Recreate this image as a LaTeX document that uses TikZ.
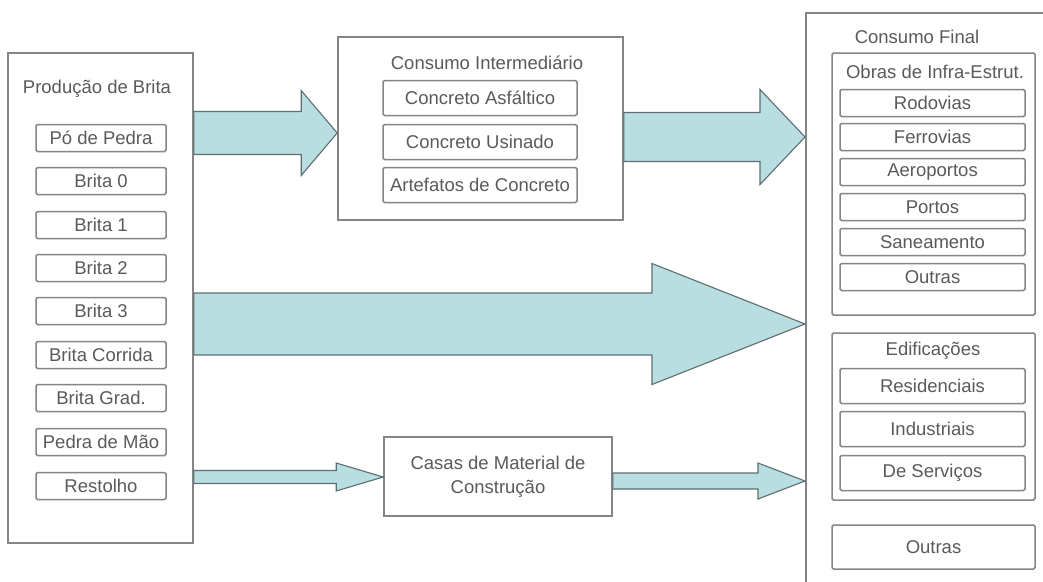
\documentclass[tikz,border=0pt]{standalone}
\usepackage{fontspec}
\setmainfont{Liberation Sans}
\usetikzlibrary{calc}
\definecolor{boxline}{HTML}{858585}
\definecolor{txt}{HTML}{5A5A5A}
\definecolor{arrfill}{HTML}{B8DEE2}
\definecolor{arrline}{HTML}{5C6E70}
\tikzset{
  outerbox/.style={draw=boxline, line width=1.6pt, fill=white, minimum width=#1, inner sep=0pt},
  itembox/.style={draw=boxline, line width=1.5pt, rounded corners=1.5pt, fill=white, inner sep=0pt, text=txt, font=\fontsize{18.5}{22}\selectfont},
  title/.style={text=txt, inner sep=0pt, font=\fontsize{18.5}{22}\selectfont},
  blockarrow/.style={fill=arrfill, draw=arrline, line width=1.1pt, line join=miter}
}
% #1 from, #2 to, #3 shaft half width, #4 head half width, #5 head length
\newcommand\myarrow[5]{%
  \draw[blockarrow] (#1) ++(0,-#3) -- ($(#2)+(-#5,-#3)$) -- ($(#2)+(-#5,-#4)$) -- (#2)
    -- ($(#2)+(-#5,#4)$) -- ($(#2)+(-#5,#3)$) -- ($(#1)+(0,#3)$) -- cycle;}
\begin{document}
\begin{tikzpicture}[x=1pt,y=-1pt]
\useasboundingbox (0,0) rectangle (1043,581);
\clip (0,0) rectangle (1043,581);
\fill[white] (0,0) rectangle (1043,581);

% Producao de Brita
\node[outerbox=185pt, minimum height=490pt] (prod) at (100.5,298) {};
\node[title] (prodt) at (97,89) {Produção de Brita};
\foreach \n/\t/\yy in {p1/Pó de Pedra/138, p2/Brita 0/181, p3/Brita 1/225, p4/Brita 2/268, p5/Brita 3/311, p6/Brita Corrida/355, p7/Brita Grad./398, p8/Pedra de Mão/442, p9/Restolho/486}
  \node[itembox, minimum width=130pt, minimum height=27pt] (\n) at (101,\yy) {\t};

% Consumo Intermediario
\node[outerbox=285pt, minimum height=183pt] (ci) at (480.5,128.5) {};
\node[title] (cit) at (487,63) {Consumo Intermediário};
\foreach \n/\t/\yy in {c1/Concreto Asfáltico/98, c2/Concreto Usinado/142, c3/Artefatos de Concreto/185}
  \node[itembox, minimum width=194pt, minimum height=35pt] (\n) at (480,\yy) {\t};

% Casas de Material de Construcao
\node[outerbox=228pt, minimum height=79pt, text=txt, align=center, font=\fontsize{18.5}{24}\selectfont] (casas) at (498,476.5) {Casas de Material de\\Construção};

% Consumo Final
\node[outerbox=260pt, minimum height=600pt, anchor=north west] (cf) at (805,12) {};
\node[title] (cft) at (917,37) {Consumo Final};

\node[outerbox=203pt, minimum height=262pt, line width=1.5pt, rounded corners=1.5pt] (infra) at (933.5,184) {};
\node[title] (infrat) at (935,72) {Obras de Infra-Estrut.};
\foreach \n/\t/\yy in {r1/Rodovias/103, r2/Ferrovias/137, r3/Aeroportos/172, r4/Portos/207, r5/Saneamento/242, r6/Outras/277}
  \node[itembox, minimum width=185pt, minimum height=27pt] (\n) at (932.5,\yy) {\t};

\node[outerbox=203pt, minimum height=167pt, line width=1.5pt, rounded corners=1.5pt] (edif) at (933.5,416.5) {};
\node[title] (edift) at (933,351) {Edificações};
\foreach \n/\t/\yy in {e1/Residenciais/386, e2/Industriais/429, e3/De Serviços/473}
  \node[itembox, minimum width=185pt, minimum height=35pt] (\n) at (932.5,\yy) {\t};

\node[itembox, minimum width=203pt, minimum height=44pt] (outras) at (933.5,547) {Outras};

% arrow end points
\coordinate (a1s) at (prod.east |- 0,133);
\coordinate (a1e) at (ci.west |- 0,133);
\coordinate (a2s) at (ci.east |- 0,137);
\coordinate (a2e) at (cf.west |- 0,137);
\coordinate (a3s) at (prod.east |- 0,324);
\coordinate (a3e) at (cf.west |- 0,324);
\coordinate (a4s) at (prod.east |- 0,477);
\coordinate (a4e) at (casas.west |- 0,477);
\coordinate (a5s) at (casas.east |- 0,481);
\coordinate (a5e) at (cf.west |- 0,481);

\myarrow{a1s}{a1e}{21.5}{42.5}{36}
\myarrow{a2s}{a2e}{24.5}{47.5}{45}
\myarrow{a3s}{a3e}{31}{60.5}{153}
\myarrow{a4s}{a4e}{6.5}{14}{47}
\myarrow{a5s}{a5e}{8}{18}{47}
\end{tikzpicture}
\end{document}
